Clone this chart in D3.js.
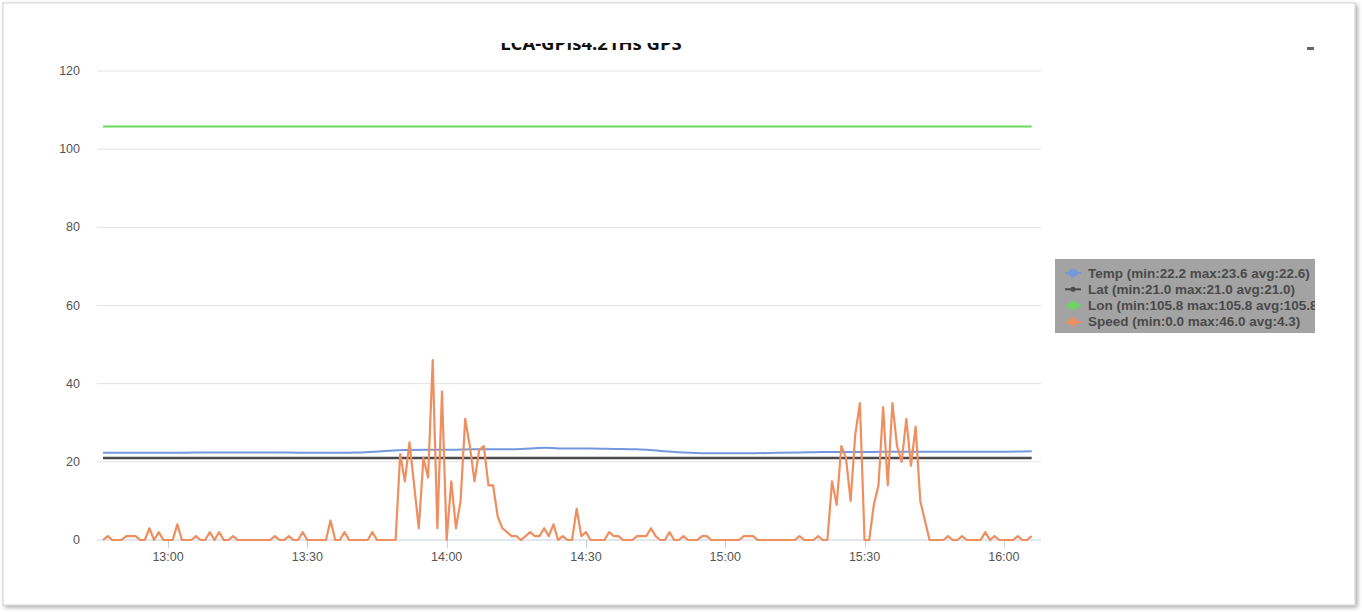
<!DOCTYPE html>
<html>
<head>
<meta charset="utf-8">
<script src="https://cdn.jsdelivr.net/npm/d3@7"></script>
<style>
body { margin: 0; background: #fff; }
svg { display: block; font-family: "Liberation Sans", Arial, sans-serif; }
</style>
</head>
<body>
<div id="vis"></div>
<script>
var w = 1362;
var h = 612;

// tick labels
var yTicks = [0, 20, 40, 60, 80, 100, 120];
var xTicks = ["13:00", "13:30", "14:00", "14:30", "15:00", "15:30", "16:00"];

var titleText = "LCA-GPIs4.21Hs GPS";
var seriesNames = ["Temp", "Lat", "Lon", "Speed"];
var seriesColors = ["#7398dd", "#4a4a4a", "#66d85e", "#ef8e5e"];
var legendText = [
	"Temp (min:22.2 max:23.6 avg:22.6)",
	"Lat (min:21.0 max:21.0 avg:21.0)",
	"Lon (min:105.8 max:105.8 avg:105.8)",
	"Speed (min:0.0 max:46.0 avg:4.3)"
];

// speed: one sample a minute from 12:46
var speedStart = "12:46";
var speed = [
	0, 1, 0, 0, 0, 1, 1, 1, 0, 0, 3, 0, 2, 0, 0, 0, 4, 0, 0, 0,
	1, 0, 0, 2, 0, 2, 0, 0, 1, 0, 0, 0, 0, 0, 0, 0, 0, 1, 0, 0,
	1, 0, 0, 2, 0, 0, 0, 0, 0, 5, 0, 0, 2, 0, 0, 0, 0, 0, 2, 0,
	0, 0, 0, 0, 22, 15, 25, 14, 3, 21, 16, 46, 3, 38, 0, 15, 3, 10, 31, 24,
	15, 23, 24, 14, 14, 6, 3, 2, 1, 1, 0, 1, 2, 1, 1, 3, 1, 4, 0, 1,
	0, 0, 8, 1, 2, 0, 0, 0, 0, 2, 1, 1, 0, 0, 0, 1, 1, 1, 3, 1,
	0, 0, 2, 0, 0, 1, 0, 0, 0, 1, 1, 0, 0, 0, 0, 0, 0, 0, 1, 1,
	1, 0, 0, 0, 0, 0, 0, 0, 0, 0, 1, 0, 0, 0, 1, 0, 0, 15, 9, 24,
	21, 10, 27, 35, 0, 0, 9, 14, 34, 14, 35, 24, 20, 31, 19, 29, 10, 5, 0, 0,
	0, 0, 1, 0, 0, 1, 0, 0, 0, 0, 2, 0, 1, 0, 0, 0, 0, 1, 0, 0,
	1
];

// temp: one sample every 5 minutes from 12:46
var tempStart = "12:46";
var temp = [
	22.3, 22.3, 22.3, 22.3, 22.4, 22.4, 22.4, 22.4, 22.4, 22.3,
	22.3, 22.4, 22.7, 23.0, 23.1, 23.1, 23.2, 23.2, 23.3, 23.6,
	23.4, 23.4, 23.3, 23.2, 22.8, 22.4, 22.2, 22.2, 22.2, 22.3,
	22.4, 22.5, 22.5, 22.5, 22.6, 22.6, 22.6, 22.6, 22.6, 22.6,
	22.7
];

var lat = 21.0;
var lon = 105.8;
var seriesStart = "12:46";
var seriesEnd = "16:06";

var parseT = d3.timeParse("%H:%M");

var svg = d3.select("#vis")
	.append("svg")
	.attr("width", w)
	.attr("height", h);

var defs = svg.append("defs");
var shadow = defs.append("filter").attr("id", "shadow")
	.attr("x", "-2%").attr("y", "-2%").attr("width", "104%").attr("height", "104%");
shadow.append("feDropShadow")
	.attr("dx", 2).attr("dy", 2).attr("stdDeviation", 2)
	.attr("flood-color", "#000").attr("flood-opacity", 0.35);

defs.append("clipPath").attr("id", "titleclip")
	.append("rect").attr("x", 0).attr("y", 43).attr("width", w).attr("height", 30);
defs.append("clipPath").attr("id", "legclip")
	.append("rect").attr("x", 1055).attr("y", 259).attr("width", 260).attr("height", 74);

//kader
svg.append("rect")
	.attr("x", 3)
	.attr("y", 3)
	.attr("width", 1352)
	.attr("height", 602)
	.attr("fill", "#fff")
	.attr("stroke", "#cfcfcf")
	.attr("stroke-width", 1)
	.attr("filter", "url(#shadow)");

// 13:00 ligt op 168px, 30 min = 139.3px
var pxPerMin = 139.3 / 30;
var x = d3.scaleTime()
	.domain([d3.timeSecond.offset(parseT("13:00"), -71 / pxPerMin * 60), d3.timeSecond.offset(parseT("13:00"), 873 / pxPerMin * 60)])
	.range([97, 1041]);

var y = d3.scaleLinear()
	.domain([0, 120])
	.range([540, 71]);

//hulplijnen
svg.selectAll(".grid")
	.data(yTicks.filter(function(d) { return d > 0; }))
	.enter()
	.append("line")
	.attr("class", "grid")
	.attr("x1", 97)
	.attr("x2", 1041)
	.attr("y1", function(d) { return y(d); })
	.attr("y2", function(d) { return y(d); })
	.attr("stroke", "#e3e3e3")
	.attr("stroke-width", 1);

svg.selectAll(".ylab")
	.data(yTicks)
	.enter()
	.append("text")
	.attr("class", "ylab")
	.attr("x", 80)
	.attr("y", function(d) { return y(d) + 4; })
	.attr("text-anchor", "end")
	.attr("fill", "#555")
	.style("font-size", "12.5px")
	.text(function(d) { return d; });

// x as
svg.append("line")
	.attr("x1", 97)
	.attr("x2", 1041)
	.attr("y1", y(0))
	.attr("y2", y(0))
	.attr("stroke", "#c3d0e0")
	.attr("stroke-width", 1);

svg.selectAll(".xtick")
	.data(xTicks)
	.enter()
	.append("line")
	.attr("class", "xtick")
	.attr("x1", function(d) { return Math.round(x(parseT(d))) + 0.5; })
	.attr("x2", function(d) { return Math.round(x(parseT(d))) + 0.5; })
	.attr("y1", y(0))
	.attr("y2", y(0) + 8)
	.attr("stroke", "#c3d0e0");

svg.selectAll(".xlab")
	.data(xTicks)
	.enter()
	.append("text")
	.attr("class", "xlab")
	.attr("x", function(d) { return x(parseT(d)); })
	.attr("y", 561)
	.attr("text-anchor", "middle")
	.attr("fill", "#555")
	.style("font-size", "12.5px")
	.text(function(d) { return d; });

// titel (bovenkant afgesneden)
svg.append("text")
	.attr("x", 591)
	.attr("y", 50)
	.attr("text-anchor", "middle")
	.attr("clip-path", "url(#titleclip)")
	.attr("fill", "#111")
	.style("font-family", "'Open Sans', sans-serif")
	.style("font-weight", "bold")
	.style("font-size", "18.5px")
	.text(titleText);

svg.append("rect")
	.attr("x", 1307)
	.attr("y", 47)
	.attr("width", 7)
	.attr("height", 3)
	.attr("fill", "#666");

// series
var speedData = speed.map(function(v, i) { return { t: d3.timeMinute.offset(parseT(speedStart), i), v: v }; });
var tempData = temp.map(function(v, i) { return { t: d3.timeMinute.offset(parseT(tempStart), i * 5), v: v }; });
var latData = [{ t: parseT(seriesStart), v: lat }, { t: parseT(seriesEnd), v: lat }];
var lonData = [{ t: parseT(seriesStart), v: lon }, { t: parseT(seriesEnd), v: lon }];

var line = d3.line()
	.x(function(d) { return x(d.t); })
	.y(function(d) { return y(d.v); });

var tempLine = d3.line()
	.curve(d3.curveMonotoneX)
	.x(function(d) { return x(d.t); })
	.y(function(d) { return y(d.v); });

svg.append("path")
	.datum(lonData)
	.attr("d", line)
	.attr("fill", "none")
	.attr("stroke", seriesColors[2])
	.attr("stroke-width", 2);

svg.append("path")
	.datum(tempData)
	.attr("d", tempLine)
	.attr("fill", "none")
	.attr("stroke", seriesColors[0])
	.attr("stroke-width", 2);

svg.append("path")
	.datum(latData)
	.attr("d", line)
	.attr("fill", "none")
	.attr("stroke", seriesColors[1])
	.attr("stroke-width", 2.5);

svg.append("path")
	.datum(speedData)
	.attr("d", line)
	.attr("fill", "none")
	.attr("stroke", seriesColors[3])
	.attr("stroke-width", 2.2)
	.attr("stroke-linejoin", "round");

// legenda
var leg = svg.append("g")
	.attr("clip-path", "url(#legclip)");
leg.append("rect")
	.attr("x", 1055)
	.attr("y", 259)
	.attr("width", 260)
	.attr("height", 74)
	.attr("fill", "#a3a3a3");

var legItems = leg.selectAll(".legitem")
	.data(seriesNames)
	.enter()
	.append("g")
	.attr("class", "legitem")
	.attr("transform", function(d, i) { return "translate(0," + (273 + i * 16.3) + ")"; });

legItems.append("line")
	.attr("x1", 1065)
	.attr("x2", 1081)
	.attr("y1", 0)
	.attr("y2", 0)
	.attr("stroke", function(d, i) { return seriesColors[i]; })
	.attr("stroke-width", 2);

legItems.append("circle")
	.attr("cx", 1073)
	.attr("cy", 0)
	.attr("r", function(d) { return d == "Lat" ? 2.5 : 4.5; })
	.attr("fill", function(d, i) { return seriesColors[i]; })
	.attr("fill-opacity", function(d) { return d == "Lat" ? 1 : 0.85; });

legItems.append("text")
	.attr("x", 1088)
	.attr("y", 4.5)
	.attr("fill", "#4a4a4a")
	.style("font-size", "13.5px")
	.style("font-weight", "bold")
	.text(function(d, i) { return legendText[i]; });
</script>
</body>
</html>
